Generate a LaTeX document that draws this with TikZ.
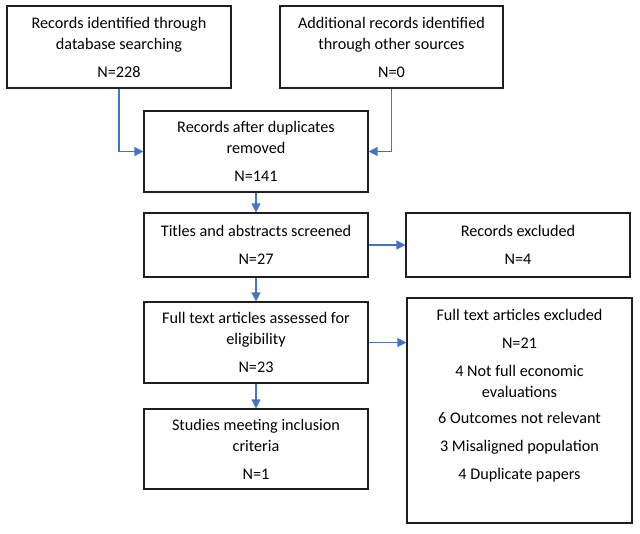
\documentclass[tikz,border=0pt]{standalone}
\usepackage{fontspec}
\setmainfont{Carlito}
\usetikzlibrary{arrows.meta}
\definecolor{arrowblue}{HTML}{4472C4}
\definecolor{boxline}{HTML}{1E1E1E}
\tikzset{
  box/.style={draw=boxline, line width=1.2pt, inner sep=0pt, align=center,
    font=\fontsize{16.2}{21}\selectfont, minimum width=224pt},
  txt/.style={inner sep=0pt, align=center, font=\fontsize{16.2}{21}\selectfont},
  flow/.style={draw=arrowblue, line width=1.2pt, -{Triangle[length=9pt,width=9pt]}}
}
\begin{document}
\begin{tikzpicture}[x=1pt,y=-1pt]
\useasboundingbox (0,0) rectangle (640,533);
\node[box, minimum height=82pt] (b1) at (119,47) {Records identified through\\database searching\\[7pt]N=228};
\node[box, minimum height=82pt, minimum width=223pt] (b2) at (391.5,47) {Additional records identified\\through other sources\\[7pt]N=0};
\node[box, minimum height=81pt] (b3) at (256,151.5) {Records after duplicates\\removed\\[7pt]N=141};
\node[box, minimum height=64pt] (b4) at (256,245) {Titles and abstracts screened\\[7pt]N=27};
\node[box, minimum height=81pt] (b5) at (256,342.5) {Full text articles assessed for\\eligibility\\[7pt]N=23};
\node[box, minimum height=80pt] (b6) at (256,449) {Studies meeting inclusion\\criteria\\[7pt]N=1};
\node[box, minimum height=64pt] (r1) at (518,245) {Records excluded\\[7pt]N=4};
\node[box, minimum height=225pt, minimum width=225pt] (r2) at (519.5,410.5) {};
\node[txt, anchor=north] (r2t) at (519.5,309.5) {Full text articles excluded\\[7pt]N=21\\[7pt]4 Not full economic\\evaluations\\[5pt]6 Outcomes not relevant\\[7pt]3 Misaligned population\\[7pt]4 Duplicate papers};
\draw[flow] (b1.south) |- (b3.west);
\draw[flow] (b2.south) |- (b3.east);
\draw[flow] (b3) -- (b4);
\draw[flow] (b4) -- (b5);
\draw[flow] (b5) -- (b6);
\draw[flow] (b4.east) -- (r1.west);
\draw[flow] (b5.east) -- (b5.east -| r2.west);
\end{tikzpicture}
\end{document}
